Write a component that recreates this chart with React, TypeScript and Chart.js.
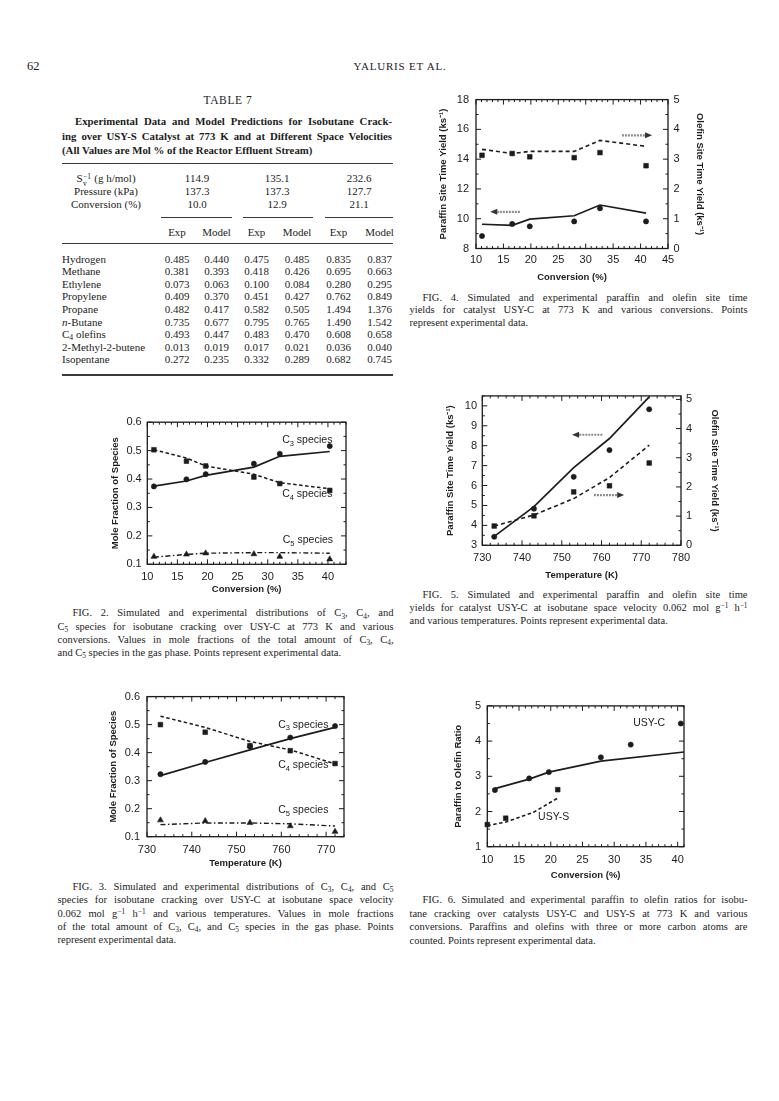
import React, { useEffect, useRef } from "react";
import { Chart, registerables } from "chart.js";
Chart.register(...registerables);

// ---------------- Table 7 ----------------
const tableSpaceTime = ["114.9", "135.1", "232.6"];
const tablePressure = ["137.3", "137.3", "127.7"];
const tableConversion = ["10.0", "12.9", "21.1"];
const tableSpecies = ["Hydrogen", "Methane", "Ethylene", "Propylene", "Propane", "*{n}-Butane", "C_{4} olefins", "2-Methyl-2-butene", "Isopentane"];
const tableHydrogen = ["0.485", "0.440", "0.475", "0.485", "0.835", "0.837"];
const tableMethane = ["0.381", "0.393", "0.418", "0.426", "0.695", "0.663"];
const tableEthylene = ["0.073", "0.063", "0.100", "0.084", "0.280", "0.295"];
const tablePropylene = ["0.409", "0.370", "0.451", "0.427", "0.762", "0.849"];
const tablePropane = ["0.482", "0.417", "0.582", "0.505", "1.494", "1.376"];
const tableNButane = ["0.735", "0.677", "0.795", "0.765", "1.490", "1.542"];
const tableC4Olefins = ["0.493", "0.447", "0.483", "0.470", "0.608", "0.658"];
const tableMethylButene = ["0.013", "0.019", "0.017", "0.021", "0.036", "0.040"];
const tableIsopentane = ["0.272", "0.235", "0.332", "0.289", "0.682", "0.745"];
const tableRows = [tableHydrogen, tableMethane, tableEthylene, tablePropylene, tablePropane, tableNButane, tableC4Olefins, tableMethylButene, tableIsopentane];

// ---------------- Fig. 4 ----------------
const fig4Conversion = [11.1, 16.6, 19.8, 27.9, 32.6, 41.0];
const fig4ParaffinExp = [8.84, 9.65, 9.49, 9.82, 10.7, 9.82];
const fig4ParaffinModel = [9.63, 9.55, 9.97, 10.2, 10.92, 10.37];
const fig4OlefinExp = [3.13, 3.19, 3.08, 3.05, 3.22, 2.78];
const fig4OlefinModel = [3.33, 3.19, 3.26, 3.26, 3.63, 3.43];
const fig4XTicks = [10, 15, 20, 25, 30, 35, 40, 45];
const fig4YTicks = [8, 10, 12, 14, 16, 18];
const fig4Y2Ticks = [0, 1, 2, 3, 4, 5];

// ---------------- Fig. 2 ----------------
const fig2Conversion = [11.1, 16.5, 19.7, 27.7, 32.0, 40.3];
const fig2C3Exp = [0.374, 0.399, 0.417, 0.454, 0.489, 0.516];
const fig2C3Model = [0.375, 0.393, 0.413, 0.442, 0.48, 0.497];
const fig2C4Exp = [0.503, 0.463, 0.446, 0.407, 0.384, 0.36];
const fig2C4Model = [0.503, 0.474, 0.446, 0.417, 0.387, 0.366];
const fig2C5Exp = [0.127, 0.135, 0.139, 0.136, 0.127, 0.118];
const fig2C5Model = [0.125, 0.135, 0.139, 0.141, 0.141, 0.139];
const fig2XTicks = [10, 15, 20, 25, 30, 35, 40];
const fractionTicks = [0.1, 0.2, 0.3, 0.4, 0.5, 0.6];

// ---------------- Fig. 5 ----------------
const fig5Temperature = [733, 743, 753, 762, 772];
const fig5ParaffinExp = [3.43, 4.84, 6.44, 7.78, 9.83];
const fig5ParaffinModel = [3.45, 4.94, 6.9, 8.36, 10.45];
const fig5OlefinExp = [0.66, 1.01, 1.83, 2.04, 2.82];
const fig5OlefinModel = [0.66, 1.04, 1.6, 2.32, 3.43];
const fig5XTicks = [730, 740, 750, 760, 770, 780];
const fig5YTicks = [3, 4, 5, 6, 7, 8, 9, 10];
const fig5Y2Ticks = [0, 1, 2, 3, 4, 5];

// ---------------- Fig. 3 ----------------
const fig3Temperature = [733, 743, 753, 762, 772];
const fig3C3Exp = [0.323, 0.367, 0.422, 0.454, 0.495];
const fig3C3Model = [0.318, 0.365, 0.41, 0.45, 0.49];
const fig3C4Exp = [0.5, 0.473, 0.425, 0.407, 0.361];
const fig3C4Model = [0.53, 0.49, 0.44, 0.41, 0.36];
const fig3C5Exp = [0.159, 0.156, 0.15, 0.138, 0.118];
const fig3C5Model = [0.143, 0.149, 0.149, 0.146, 0.138];
const fig3XTicks = [730, 740, 750, 760, 770];

// ---------------- Fig. 6 ----------------
const fig6UsyCConversion = [11.2, 16.6, 19.7, 27.9, 32.6, 40.5];
const fig6UsyCExp = [2.61, 2.94, 3.12, 3.54, 3.9, 4.5];
const fig6UsyCModelConversion = [11.2, 16.6, 19.7, 27.9, 41.0];
const fig6UsyCModel = [2.65, 2.92, 3.12, 3.43, 3.69];
const fig6UsySConversion = [10.0, 12.9, 21.1];
const fig6UsySExp = [1.63, 1.81, 2.62];
const fig6UsySModelConversion = [10.0, 12.9, 17.3, 21.1];
const fig6UsySModel = [1.6, 1.7, 1.98, 2.38];
const fig6XTicks = [10, 15, 20, 25, 30, 35, 40];
const fig6YTicks = [1, 2, 3, 4, 5];

// ---------------- captions ----------------
const fig4Caption = [
  "FIG. 4.  Simulated and experimental paraffin and olefin site time",
  "yields for catalyst USY-C at 773 K and various conversions. Points",
  "represent experimental data.",
];
const fig2Caption = [
  "FIG. 2.  Simulated and experimental distributions of C_{3}, C_{4}, and",
  "C_{5} species for isobutane cracking over USY-C at 773 K and various",
  "conversions. Values in mole fractions of the total amount of C_{3}, C_{4},",
  "and C_{5} species in the gas phase. Points represent experimental data.",
];
const fig5Caption = [
  "FIG. 5.  Simulated and experimental paraffin and olefin site time",
  "yields for catalyst USY-C at isobutane space velocity 0.062 mol g^{−1} h^{−1}",
  "and various temperatures. Points represent experimental data.",
];
const fig3Caption = [
  "FIG. 3.  Simulated and experimental distributions of C_{3}, C_{4}, and C_{5}",
  "species for isobutane cracking over USY-C at isobutane space velocity",
  "0.062 mol g^{−1} h^{−1} and various temperatures. Values in mole fractions",
  "of the total amount of C_{3}, C_{4}, and C_{5} species in the gas phase. Points",
  "represent experimental data.",
];
const fig6Caption = [
  "FIG. 6.  Simulated and experimental paraffin to olefin ratios for isobu-",
  "tane cracking over catalysts USY-C and USY-S at 773 K and various",
  "conversions. Paraffins and olefins with three or more carbon atoms are",
  "counted. Points represent experimental data.",
];

const INK = "#1c1c1c";
const SANS = "'Liberation Sans', Arial, Helvetica, sans-serif";
const SERIF = "'Liberation Serif', 'Times New Roman', Times, serif";

// ---------------- rich text helpers ----------------
type Part = { s: string; kind: "n" | "sub" | "sup" | "it" };
function parseRich(s: string): Part[] {
  const out: Part[] = [];
  const re = /([_^*])\{([^}]*)\}/g;
  let last = 0;
  let m: RegExpExecArray | null;
  while ((m = re.exec(s))) {
    if (m.index > last) out.push({ s: s.slice(last, m.index), kind: "n" });
    out.push({ s: m[2], kind: m[1] === "_" ? "sub" : m[1] === "^" ? "sup" : "it" });
    last = re.lastIndex;
  }
  if (last < s.length) out.push({ s: s.slice(last), kind: "n" });
  return out;
}
function Rich({ text }: { text: string }) {
  return (
    <>
      {parseRich(text).map((p, i) => {
        if (p.kind === "sub")
          return (
            <span key={i} style={{ fontSize: "0.7em", position: "relative", top: "0.3em", lineHeight: 0 }}>
              {p.s}
            </span>
          );
        if (p.kind === "sup")
          return (
            <span key={i} style={{ fontSize: "0.7em", position: "relative", top: "-0.42em", lineHeight: 0 }}>
              {p.s}
            </span>
          );
        if (p.kind === "it") return <i key={i}>{p.s}</i>;
        return <React.Fragment key={i}>{p.s}</React.Fragment>;
      })}
    </>
  );
}

type TP = {
  x?: number;
  cx?: number;
  y: number;
  w?: number;
  size?: number;
  bold?: boolean;
  justify?: boolean;
  family?: string;
  ls?: number;
  children: React.ReactNode;
};
function T({ x, cx, y, w, size = 11, bold, justify, family = SERIF, ls, children }: TP) {
  const h = 14;
  const style: React.CSSProperties = {
    position: "absolute",
    top: y - h / 2,
    height: h,
    lineHeight: `${h}px`,
    fontSize: size,
    fontFamily: family,
    fontWeight: bold ? 700 : 400,
    color: INK,
    whiteSpace: "nowrap",
    letterSpacing: ls,
  };
  if (cx !== undefined) {
    style.left = cx - 100;
    style.width = 200;
    style.textAlign = "center";
  } else {
    style.left = x;
    if (w) style.width = w;
    if (justify) {
      style.textAlign = "justify";
      style.textAlignLast = "justify";
    }
  }
  return <div style={style}>{children}</div>;
}

function Caption({ lines, x, w, indent, y0, dy, size = 10.5 }: { lines: string[]; x: number; w: number; indent: number; y0: number; dy: number; size?: number }) {
  return (
    <>
      {lines.map((ln, i) => {
        const ind = i === 0 ? indent : 0;
        return (
          <T key={i} x={x + ind} w={w - ind} y={y0 + i * dy} size={size} justify={i < lines.length - 1}>
            <Rich text={ln} />
          </T>
        );
      })}
    </>
  );
}

function Rule({ x1, x2, y, h = 1 }: { x1: number; x2: number; y: number; h?: number }) {
  return <div style={{ position: "absolute", left: x1, top: y - h / 2, width: x2 - x1, height: h, background: "#3a3a3a" }} />;
}

// ---------------- chart helpers ----------------
const pts = (xs: number[], ys: number[]) => xs.map((x, i) => ({ x, y: ys[i] }));
const modelSet = (data: any[], axis: string, dash: number[], width = 1.6) => ({
  data,
  yAxisID: axis,
  showLine: true,
  borderColor: INK,
  borderWidth: width,
  borderDash: dash,
  pointRadius: 0,
  pointHitRadius: 0,
  fill: false,
  tension: 0,
  clip: false,
});
const markSet = (data: any[], axis: string, style: string, r: number) => ({
  data,
  yAxisID: axis,
  showLine: false,
  pointStyle: style,
  pointRadius: r,
  pointBackgroundColor: INK,
  pointBorderColor: INK,
  pointBorderWidth: 0.6,
  clip: false,
});

function rangeStep(min: number, max: number, step: number) {
  const out: number[] = [];
  const start = Math.ceil(min / step - 1e-6) * step;
  for (let v = start; v <= max + 1e-6; v += step) out.push(v);
  return out;
}

const framePlugin = {
  id: "frame",
  afterDatasetsDraw(chart: any, _a: any, o: any) {
    const { ctx, chartArea: a } = chart;
    const sx = chart.scales.x;
    const sy = chart.scales.y;
    const sy2 = chart.scales.y2;
    ctx.save();
    ctx.strokeStyle = INK;
    const seg = (x1: number, y1: number, x2: number, y2: number) => {
      ctx.beginPath();
      ctx.moveTo(x1, y1);
      ctx.lineTo(x2, y2);
      ctx.stroke();
    };
    ctx.lineWidth = 1;
    const MJ = 5;
    const MN = 2.5;
    const xMaj = sx.ticks.map((t: any) => t.value);
    rangeStep(sx.min, sx.max, o.xMinor).forEach((v: number) => {
      const p = sx.getPixelForValue(v);
      const len = xMaj.some((m: number) => Math.abs(m - v) < 1e-6) ? MJ : MN;
      seg(p, a.bottom, p, a.bottom - len);
      seg(p, a.top, p, a.top + len);
    });
    const yMaj = sy.ticks.map((t: any) => t.value);
    rangeStep(sy.min, sy.max, o.yMinor).forEach((v: number) => {
      const p = sy.getPixelForValue(v);
      const len = yMaj.some((m: number) => Math.abs(m - v) < 1e-6) ? MJ : MN;
      seg(a.left, p, a.left + len, p);
      if (!sy2) seg(a.right, p, a.right - len, p);
    });
    if (sy2) {
      const y2Maj = sy2.ticks.map((t: any) => t.value);
      rangeStep(sy2.min, sy2.max, o.y2Minor).forEach((v: number) => {
        const p = sy2.getPixelForValue(v);
        const len = y2Maj.some((m: number) => Math.abs(m - v) < 1e-6) ? MJ : MN;
        seg(a.right, p, a.right - len, p);
      });
    }
    ctx.lineWidth = 1.3;
    ctx.strokeRect(a.left, a.top, a.right - a.left, a.bottom - a.top);
    ctx.restore();
  },
};

const notePlugin = {
  id: "notes",
  afterDatasetsDraw(chart: any, _a: any, o: any) {
    const ctx = chart.ctx;
    const sx = chart.scales.x;
    (o.arrows || []).forEach((ar: any) => {
      const sy = chart.scales[ar.axis];
      const x1 = sx.getPixelForValue(ar.from);
      const x2 = sx.getPixelForValue(ar.to);
      const y = sy.getPixelForValue(ar.y);
      const dir = Math.sign(x2 - x1);
      const hl = 7;
      ctx.save();
      ctx.strokeStyle = "#8c8c8c";
      ctx.lineWidth = 2.2;
      ctx.setLineDash([2, 1]);
      ctx.beginPath();
      ctx.moveTo(x1, y);
      ctx.lineTo(x2 - dir * hl, y);
      ctx.stroke();
      ctx.setLineDash([]);
      ctx.fillStyle = "#333";
      ctx.beginPath();
      ctx.moveTo(x2, y);
      ctx.lineTo(x2 - dir * hl, y - 3);
      ctx.lineTo(x2 - dir * hl, y + 3);
      ctx.closePath();
      ctx.fill();
      ctx.restore();
    });
    (o.texts || []).forEach((t: any) => {
      const sy = chart.scales[t.axis || "y"];
      let x = sx.getPixelForValue(t.x);
      const y = sy.getPixelForValue(t.y);
      const parts = parseRich(t.text);
      ctx.save();
      ctx.fillStyle = INK;
      ctx.textBaseline = "middle";
      const big = `10.5px ${SANS}`;
      const small = `7.5px ${SANS}`;
      let total = 0;
      parts.forEach((p) => {
        ctx.font = p.kind === "sub" ? small : big;
        total += ctx.measureText(p.s).width;
      });
      if (t.align === "right") x -= total;
      parts.forEach((p) => {
        ctx.font = p.kind === "sub" ? small : big;
        ctx.fillText(p.s, x, p.kind === "sub" ? y + 3.5 : y);
        x += ctx.measureText(p.s).width;
      });
      ctx.restore();
    });
  },
};

type Box = { l: number; t: number; r: number; b: number };
type XSpec = { min: number; max: number; ticks: number[]; minor: number; title: string; labelY: number; titleY: number };
type YSpec = { min: number; max: number; ticks: number[]; minor: number; title: string; label: number; titleX: number; digits?: number };
type FigSpec = {
  plot: Box;
  canvas: Box;
  x: XSpec;
  y: YSpec;
  y2?: YSpec;
  datasets: any[];
  arrows?: any[];
  texts?: any[];
};

const TICK = 11;
const TITLE = 9.5;
const NO_GRID = { display: false, drawTicks: false, tickLength: 0 };

function buildConfig(s: FigSpec): any {
  const tlh = TICK * 1.2;
  const ttl = TITLE * 1.2;
  const tickFont = { family: SANS, size: TICK };
  const titleFont = { family: SANS, size: TITLE, weight: "bold" as const };
  const scales: any = {
    x: {
      type: "linear",
      position: "bottom",
      min: s.x.min,
      max: s.x.max,
      afterBuildTicks: (sc: any) => {
        sc.ticks = s.x.ticks.map((v) => ({ value: v }));
      },
      ticks: {
        padding: s.x.labelY - s.plot.b - tlh / 2,
        font: tickFont,
        color: INK,
        maxRotation: 0,
        autoSkip: false,
        callback: (v: any) => String(v),
      },
      grid: NO_GRID,
      border: { display: false },
      title: { display: true, text: s.x.title, color: INK, font: titleFont, padding: { top: 0, bottom: s.canvas.b - s.x.titleY - ttl / 2 } },
      afterFit: (sc: any) => {
        sc.height = s.canvas.b - s.plot.b;
      },
    },
    y: {
      type: "linear",
      position: "left",
      min: s.y.min,
      max: s.y.max,
      afterBuildTicks: (sc: any) => {
        sc.ticks = s.y.ticks.map((v) => ({ value: v }));
      },
      ticks: {
        padding: s.plot.l - s.y.label,
        font: tickFont,
        color: INK,
        autoSkip: false,
        callback: (v: any) => (s.y.digits ? Number(v).toFixed(s.y.digits) : String(v)),
      },
      grid: NO_GRID,
      border: { display: false },
      title: { display: true, text: s.y.title, color: INK, font: titleFont, padding: { top: s.y.titleX - s.canvas.l - ttl / 2, bottom: 0 } },
      afterFit: (sc: any) => {
        sc.width = s.plot.l - s.canvas.l;
      },
    },
  };
  if (s.y2) {
    const y2 = s.y2;
    scales.y2 = {
      type: "linear",
      position: "right",
      min: y2.min,
      max: y2.max,
      afterBuildTicks: (sc: any) => {
        sc.ticks = y2.ticks.map((v) => ({ value: v }));
      },
      ticks: { padding: y2.label - s.plot.r, font: tickFont, color: INK, autoSkip: false, callback: (v: any) => String(v) },
      grid: NO_GRID,
      border: { display: false },
      title: { display: true, text: y2.title, color: INK, font: titleFont, padding: { top: s.canvas.r - y2.titleX - ttl / 2, bottom: 0 } },
      afterFit: (sc: any) => {
        sc.width = s.canvas.r - s.plot.r;
      },
    };
  }
  return {
    type: "scatter",
    data: { datasets: s.datasets },
    plugins: [framePlugin, notePlugin],
    options: {
      responsive: false,
      animation: false,
      events: [],
      layout: { padding: { top: s.plot.t - s.canvas.t, right: s.y2 ? 0 : s.canvas.r - s.plot.r, left: 0, bottom: 0 } },
      plugins: {
        legend: { display: false },
        tooltip: { enabled: false },
        frame: { xMinor: s.x.minor, yMinor: s.y.minor, y2Minor: s.y2 ? s.y2.minor : 1 },
        notes: { arrows: s.arrows || [], texts: s.texts || [] },
      },
      scales,
    },
  };
}

function Fig({ spec }: { spec: FigSpec }) {
  const ref = useRef<HTMLCanvasElement>(null);
  useEffect(() => {
    const chart = new Chart(ref.current as HTMLCanvasElement, buildConfig(spec));
    return () => chart.destroy();
  }, []);
  const c = spec.canvas;
  return (
    <canvas
      ref={ref}
      width={c.r - c.l}
      height={c.b - c.t}
      style={{ position: "absolute", left: c.l, top: c.t, width: c.r - c.l, height: c.b - c.t }}
    />
  );
}

// ---------------- figure specs ----------------
const fig4: FigSpec = {
  plot: { l: 476, t: 97, r: 668, b: 248.5 },
  canvas: { l: 430, t: 86, r: 712, b: 287 },
  x: { min: 10, max: 45, ticks: fig4XTicks, minor: 1, title: "Conversion (%)", labelY: 260, titleY: 277.7 },
  y: { min: 8, max: 18, ticks: fig4YTicks, minor: 1, title: "Paraffin Site Time Yield (ks\u207B\u00B9)", label: 469, titleX: 443.3 },
  y2: { min: 0, max: 5, ticks: fig4Y2Ticks, minor: 0.5, title: "Olefin Site Time Yield (ks\u207B\u00B9)", label: 673.5, titleX: 700 },
  datasets: [
    modelSet(pts(fig4Conversion, fig4ParaffinModel), "y", [], 1.7),
    modelSet(pts(fig4Conversion, fig4OlefinModel), "y2", [4, 3], 1.6),
    markSet(pts(fig4Conversion, fig4ParaffinExp), "y", "circle", 2.6),
    markSet(pts(fig4Conversion, fig4OlefinExp), "y2", "rect", 3.3),
  ],
  arrows: [
    { axis: "y", from: 18.0, to: 12.6, y: 10.46 },
    { axis: "y2", from: 36.6, to: 42.1, y: 3.8 },
  ],
};

const fig2: FigSpec = {
  plot: { l: 147.3, t: 421.7, r: 346, b: 564.3 },
  canvas: { l: 100, t: 410, r: 360, b: 600 },
  x: { min: 10, max: 43, ticks: fig2XTicks, minor: 1, title: "Conversion (%)", labelY: 577, titleY: 589 },
  y: { min: 0.1, max: 0.6, ticks: fractionTicks, minor: 0.05, title: "Mole Fraction of Species", label: 141.7, titleX: 115, digits: 1 },
  datasets: [
    modelSet(pts(fig2Conversion, fig2C3Model), "y", [], 1.7),
    modelSet(pts(fig2Conversion, fig2C4Model), "y", [3.5, 2.5], 1.5),
    modelSet(pts(fig2Conversion, fig2C5Model), "y", [5, 2.5, 1.5, 2.5], 1.4),
    markSet(pts(fig2Conversion, fig2C3Exp), "y", "circle", 2.6),
    markSet(pts(fig2Conversion, fig2C4Exp), "y", "rect", 3.3),
    markSet(pts(fig2Conversion, fig2C5Exp), "y", "triangle", 3.4),
  ],
  texts: [
    { x: 32.4, y: 0.536, text: "C_{3} species" },
    { x: 32.4, y: 0.347, text: "C_{4} species" },
    { x: 32.5, y: 0.185, text: "C_{5} species" },
  ],
};

const fig5: FigSpec = {
  plot: { l: 482.3, t: 395, r: 681, b: 545.3 },
  canvas: { l: 440, t: 384, r: 726, b: 584 },
  x: { min: 730, max: 780, ticks: fig5XTicks, minor: 2, title: "Temperature (K)", labelY: 558.3, titleY: 575 },
  y: { min: 3, max: 10.5, ticks: fig5YTicks, minor: 0.5, title: "Paraffin Site Time Yield (ks\u207B\u00B9)", label: 477, titleX: 450 },
  y2: { min: 0, max: 5.12, ticks: fig5Y2Ticks, minor: 0.5, title: "Olefin Site Time Yield (ks\u207B\u00B9)", label: 686, titleX: 715 },
  datasets: [
    modelSet(pts(fig5Temperature, fig5ParaffinModel), "y", [], 1.7),
    modelSet(pts(fig5Temperature, fig5OlefinModel), "y2", [4, 3], 1.6),
    markSet(pts(fig5Temperature, fig5ParaffinExp), "y", "circle", 2.6),
    markSet(pts(fig5Temperature, fig5OlefinExp), "y2", "rect", 3.3),
  ],
  arrows: [
    { axis: "y", from: 760.2, to: 752.6, y: 8.55 },
    { axis: "y2", from: 758.1, to: 765.7, y: 1.72 },
  ],
};

const fig3: FigSpec = {
  plot: { l: 147, t: 694, r: 344, b: 836.7 },
  canvas: { l: 100, t: 683, r: 358, b: 872 },
  x: { min: 730, max: 774, ticks: fig3XTicks, minor: 2, title: "Temperature (K)", labelY: 850, titleY: 863 },
  y: { min: 0.1, max: 0.6, ticks: fractionTicks, minor: 0.05, title: "Mole Fraction of Species", label: 140, titleX: 113.3, digits: 1 },
  datasets: [
    modelSet(pts(fig3Temperature, fig3C3Model), "y", [], 1.7),
    modelSet(pts(fig3Temperature, fig3C4Model), "y", [3.5, 2.5], 1.5),
    modelSet(pts(fig3Temperature, fig3C5Model), "y", [5, 2.5, 1.5, 2.5], 1.4),
    markSet(pts(fig3Temperature, fig3C3Exp), "y", "circle", 2.6),
    markSet(pts(fig3Temperature, fig3C4Exp), "y", "rect", 3.3),
    markSet(pts(fig3Temperature, fig3C5Exp), "y", "triangle", 3.4),
  ],
  texts: [
    { x: 759.3, y: 0.5, text: "C_{3} species" },
    { x: 759.3, y: 0.356, text: "C_{4} species" },
    { x: 759.3, y: 0.194, text: "C_{5} species" },
  ],
};

const fig6: FigSpec = {
  plot: { l: 487.3, t: 704, r: 684, b: 846.7 },
  canvas: { l: 445, t: 693, r: 698, b: 884 },
  x: { min: 10, max: 41, ticks: fig6XTicks, minor: 1, title: "Conversion (%)", labelY: 860, titleY: 875 },
  y: { min: 1, max: 5, ticks: fig6YTicks, minor: 0.5, title: "Paraffin to Olefin Ratio", label: 481, titleX: 458 },
  datasets: [
    modelSet(pts(fig6UsyCModelConversion, fig6UsyCModel), "y", [], 1.7),
    modelSet(pts(fig6UsySModelConversion, fig6UsySModel), "y", [3.5, 2.5], 1.6),
    markSet(pts(fig6UsyCConversion, fig6UsyCExp), "y", "circle", 2.6),
    markSet(pts(fig6UsySConversion, fig6UsySExp), "y", "rect", 3.3),
  ],
  texts: [
    { x: 18.0, y: 1.84, text: "USY-S" },
    { x: 38.0, y: 4.5, text: "USY-C", align: "right" },
  ],
};

// ---------------- layout constants ----------------
const valueCols = [177, 216.5, 256.5, 297, 338.5, 379.5];
const groupCols = [197, 277, 359];

export default function App() {
  useEffect(() => {
    document.body.style.margin = "0";
  }, []);
  const rowY0 = 258.5;
  const rowDY = 12.6;
  return (
    <div style={{ position: "absolute", left: 0, top: 0, width: 779, height: 1101, background: "#fff", overflow: "hidden", color: INK }}>
      {/* running head */}
      <T x={27} y={66} size={12.5}>
        62
      </T>
      <T cx={400} y={66} size={11} ls={0.8}>
        YALURIS ET AL.
      </T>

      {/* Table 7 */}
      <T cx={228} y={100} size={11.5} ls={0.6}>
        TABLE 7
      </T>
      <T x={75} w={317} y={121} size={10.8} bold justify>
        Experimental Data and Model Predictions for Isobutane Crack-
      </T>
      <T x={62} w={330} y={135.5} size={10.8} bold justify>
        ing over USY-S Catalyst at 773 K and at Different Space Velocities
      </T>
      <T x={62} y={150} size={10.8} bold>
        (All Values are Mol % of the Reactor Effluent Stream)
      </T>
      <Rule x1={62} x2={393} y={163.5} h={1.4} />
      <T cx={106} y={178}>
        S
        <span style={{ display: "inline-block", position: "relative", width: 9, height: 10, verticalAlign: "middle" }}>
          <span style={{ position: "absolute", left: 0.5, top: -4, fontSize: 7.5 }}>−1</span>
          <span style={{ position: "absolute", left: 0.5, top: 3, fontSize: 7.5 }}>v</span>
        </span>
        {" "}(g h/mol)
      </T>
      <T cx={106} y={191}>
        Pressure (kPa)
      </T>
      <T cx={106} y={204}>
        Conversion (%)
      </T>
      {groupCols.map((cx, j) => (
        <React.Fragment key={j}>
          <T cx={cx} y={178}>
            {tableSpaceTime[j]}
          </T>
          <T cx={cx} y={191}>
            {tablePressure[j]}
          </T>
          <T cx={cx} y={204}>
            {tableConversion[j]}
          </T>
        </React.Fragment>
      ))}
      <Rule x1={161} x2={232} y={217} h={0.9} />
      <Rule x1={243} x2={313} y={217} h={0.9} />
      <Rule x1={325} x2={393} y={217} h={0.9} />
      {valueCols.map((cx, j) => (
        <T key={j} cx={cx} y={231.5}>
          {j % 2 === 0 ? "Exp" : "Model"}
        </T>
      ))}
      <Rule x1={62} x2={393} y={243.5} h={1.4} />
      {tableSpecies.map((sp, i) => (
        <React.Fragment key={i}>
          <T x={62} y={rowY0 + i * rowDY}>
            <Rich text={sp} />
          </T>
          {tableRows[i].map((v, j) => (
            <T key={j} cx={valueCols[j]} y={rowY0 + i * rowDY}>
              {v}
            </T>
          ))}
        </React.Fragment>
      ))}
      <Rule x1={62} x2={393} y={375} h={1.4} />

      {/* figures */}
      <Fig spec={fig4} />
      <Fig spec={fig2} />
      <Fig spec={fig5} />
      <Fig spec={fig3} />
      <Fig spec={fig6} />

      {/* captions */}
      <Caption lines={fig4Caption} x={409.5} w={338} indent={13} y0={297.5} dy={12.8} />
      <Caption lines={fig2Caption} x={57.5} w={336} indent={15} y0={613.3} dy={13.3} />
      <Caption lines={fig5Caption} x={409.5} w={338} indent={13} y0={595} dy={13} />
      <Caption lines={fig3Caption} x={57.5} w={336} indent={15} y0={887} dy={13.3} />
      <Caption lines={fig6Caption} x={409.5} w={338} indent={13} y0={900} dy={13.5} />
    </div>
  );
}
